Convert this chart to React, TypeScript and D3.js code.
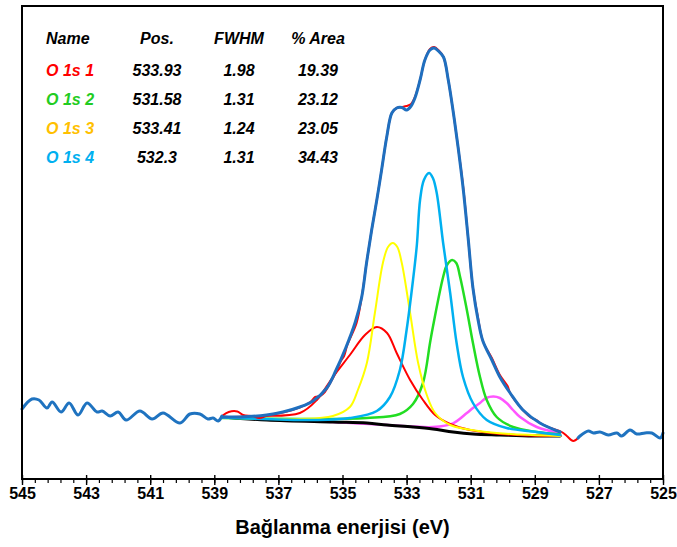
import React, { useEffect, useRef } from 'react';
import * as d3 from 'd3';

// binding energy (eV), intensity (arb.) pairs
const leftNoise: [number, number][] = [
  [545.0, 69], [544.69, 79], [544.47, 78], [544.22, 70], [544.06, 76], [543.78, 66],
  [543.53, 75], [543.25, 63], [542.97, 75], [542.66, 66], [542.5, 67], [542.25, 62],
  [542.0, 66], [541.75, 58], [541.32, 67], [540.94, 59], [540.6, 65], [540.07, 55],
  [539.76, 64], [539.45, 64], [539.2, 59], [539.04, 60], [538.88, 57], [538.76, 62],
];

const rightNoise: [number, number][] = [
  [527.65, 40], [527.59, 42], [527.33, 47], [527.17, 45], [526.97, 46], [526.71, 43],
  [526.44, 45], [526.29, 42], [526.03, 48], [525.82, 44], [525.56, 45], [525.35, 45],
  [525.09, 40], [525.0, 45],
];

const rawData: [number, number][] = [
  [538.76, 62], [538.55, 66], [538.28, 66.5], [538.1, 63], [537.8, 62], [537.6, 60],
  [537.3, 63], [536.8, 66], [536.3, 71], [536.0, 76], [535.85, 81], [535.7, 82],
  [535.55, 86], [535.4, 94], [535.2, 106], [535.05, 117], [534.95, 122], [534.85, 133],
  [534.56, 155], [534.4, 181], [534.25, 215], [534.09, 248], [533.93, 278], [533.78, 308],
  [533.62, 341], [533.46, 365], [533.31, 370], [533.15, 371], [533.0, 372], [532.86, 374],
  [532.74, 381], [532.58, 398], [532.43, 418], [532.27, 429], [532.14, 431], [532.01, 428],
  [531.85, 421], [531.7, 398], [531.54, 365], [531.39, 330], [531.23, 290], [531.08, 240],
  [530.93, 190], [530.77, 160], [530.62, 137], [530.34, 120], [530.09, 103], [529.85, 92],
  [529.77, 85], [529.37, 68], [529.1, 60], [528.95, 58], [528.84, 55], [528.5, 50],
  [528.16, 46], [528.0, 42], [527.8, 37], [527.65, 40],
];

const envelope: [number, number][] = [
  [538.76, 61], [538.2, 61], [537.37, 63], [536.86, 66], [536.33, 71], [535.92, 77],
  [535.49, 90], [535.2, 108], [534.9, 130], [534.6, 156], [534.4, 181], [534.25, 215],
  [534.09, 248], [533.93, 278], [533.78, 308], [533.62, 341], [533.46, 365], [533.31, 370],
  [533.15, 370.5], [533.0, 368], [532.86, 372], [532.74, 380], [532.58, 398], [532.43, 418],
  [532.27, 428], [532.14, 430], [532.01, 427], [531.85, 421], [531.7, 398], [531.54, 365],
  [531.39, 330], [531.23, 288], [531.08, 240], [530.93, 190], [530.77, 158], [530.62, 137],
  [530.34, 118], [530.09, 101], [529.77, 85], [529.37, 68], [528.84, 55], [528.21, 46],
];

const background: [number, number][] = [
  [538.76, 61], [537.36, 58], [535.3, 56], [534.24, 55], [533.61, 53], [532.8, 51],
  [532.18, 49], [531.55, 46], [530.93, 44], [530.09, 43], [529.06, 42], [528.21, 42],
];

const peak1: [number, number][] = [
  [538.76, 61], [537.57, 62], [536.33, 65], [535.8, 78], [535.3, 101], [534.77, 123],
  [534.3, 143], [533.93, 151], [533.61, 145], [533.31, 125], [532.89, 98], [532.49, 78],
  [532.11, 63], [531.64, 54], [531.02, 48], [530.09, 44], [529.15, 42.5], [528.21, 42],
];

const peak2: [number, number][] = [
  [538.76, 60], [534.25, 60], [533.21, 64], [532.8, 74], [532.49, 95], [532.27, 135],
  [532.18, 151], [531.86, 201], [531.74, 213], [531.58, 218], [531.45, 215], [531.33, 201],
  [531.12, 168], [530.93, 135], [530.71, 101], [530.5, 78], [530.19, 61], [529.68, 51],
  [528.94, 46], [528.21, 43.5],
];

const peak3: [number, number][] = [
  [538.76, 60.5], [536.33, 59], [535.3, 62], [534.77, 71], [534.52, 88], [534.24, 115],
  [533.99, 165], [533.74, 215], [533.58, 231], [533.43, 235], [533.29, 231], [533.15, 215],
  [532.89, 165], [532.64, 115], [532.37, 83], [532.11, 65], [531.64, 53], [530.5, 46],
  [529.46, 43.5], [528.21, 42],
];

const peak4: [number, number][] = [
  [538.76, 60.5], [535.8, 58], [534.77, 60], [533.93, 67], [533.52, 81], [533.21, 108],
  [533.0, 148], [532.8, 198], [532.68, 233], [532.58, 278], [532.46, 298], [532.3, 305],
  [532.18, 300], [532.06, 285], [531.86, 235], [531.64, 185], [531.44, 135], [531.24, 101],
  [530.93, 75], [530.5, 58], [529.88, 50], [528.94, 46], [528.21, 43],
];

const peak5: [number, number][] = [
  [538.76, 60.5], [535.3, 56], [533.61, 53], [532.8, 51.5], [532.18, 51], [531.55, 54.7],
  [531.12, 65], [530.93, 70], [530.71, 75], [530.52, 80], [530.29, 81.5], [530.09, 80],
  [529.88, 75], [529.68, 68], [529.46, 61], [528.94, 51], [528.21, 45],
];

// fit table
const tableHeader = ['Name', 'Pos.', 'FWHM', '% Area'];
const peakNames = ['O 1s 1', 'O 1s 2', 'O 1s 3', 'O 1s 4'];
const peakPos = ['533.93', '531.58', '533.41', '532.3'];
const peakFwhm = ['1.98', '1.31', '1.24', '1.31'];
const peakArea = ['19.39', '23.12', '23.05', '34.43'];
const nameColors = ['#ff0000', '#22cc22', '#ffc000', '#00b0f0'];

const majorTicks = d3.range(545, 524, -2);
const minorTicks = d3.range(0, 51).map(i => 545 - i * 0.4);

function App() {
  const svgRef = useRef<SVGSVGElement>(null);

  useEffect(() => {
    if (!svgRef.current) return;
    const svg = d3.select(svgRef.current);
    svg.selectAll('*').remove();

    const left = 22, right = 663, top = 6, bottom = 479;

    const xScale = d3.scaleLinear().domain([545, 525]).range([left, right]);
    const yScale = d3.scaleLinear().domain([0, 470]).range([478, 8]);

    const line = d3.line<[number, number]>()
      .x(d => xScale(d[0]))
      .y(d => yScale(d[1]))
      .curve(d3.curveCatmullRom.alpha(0.5));

    const plot = svg.append('g');

    const draw = (data: [number, number][], color: string, width: number) => {
      plot.append('path')
        .datum(data)
        .attr('fill', 'none')
        .attr('stroke', color)
        .attr('stroke-width', width)
        .attr('stroke-linejoin', 'round')
        .attr('stroke-linecap', 'round')
        .attr('d', line);
    };

    draw(peak5, '#ff55ff', 2.5);
    draw(background, '#000000', 3);
    draw(peak2, '#22dd22', 2.5);
    draw(peak1, '#ff0000', 2);
    draw(peak3, '#ffff00', 2);
    draw(peak4, '#00b0f0', 2.5);
    draw(rawData, '#ff0000', 2);
    draw(envelope, '#1f6fbf', 3);
    draw(leftNoise, '#1f73c0', 3);
    draw(rightNoise, '#1f73c0', 3);

    // frame
    svg.append('rect')
      .attr('x', left).attr('y', top)
      .attr('width', right - left).attr('height', bottom - top)
      .attr('fill', 'none')
      .attr('stroke', '#000')
      .attr('stroke-width', 2);

    // minor ticks
    svg.append('g')
      .attr('transform', `translate(0, ${bottom})`)
      .call(d3.axisBottom(xScale).tickValues(minorTicks).tickSize(4).tickFormat(() => ''))
      .call(g => g.select('.domain').remove())
      .call(g => g.selectAll('line').attr('stroke-width', 1.2));

    // major ticks and labels
    const ax = svg.append('g')
      .attr('transform', `translate(0, ${bottom})`)
      .call(d3.axisBottom(xScale).tickValues(majorTicks).tickSize(6).tickPadding(3).tickFormat(d3.format('d')))
      .call(g => g.select('.domain').remove());
    ax.selectAll('line').attr('y1', -4).attr('stroke-width', 1.4);
    ax.selectAll('text')
      .attr('font-family', '"Liberation Sans Narrow", "Arial Narrow", sans-serif')
      .attr('font-weight', 'bold')
      .attr('font-size', 16)
      .attr('fill', '#000');

    svg.append('text')
      .attr('x', (left + right) / 2)
      .attr('y', 534)
      .attr('text-anchor', 'middle')
      .attr('font-family', '"Liberation Sans", Arial, sans-serif')
      .attr('font-weight', 'bold')
      .attr('font-size', 20)
      .text('Bağlanma enerjisi (eV)');

    // legend table
    const colX = [46, 157, 239, 318];
    const rowY = [38, 70, 99, 128, 157];
    const table = svg.append('g')
      .attr('font-family', '"Liberation Sans", Arial, sans-serif')
      .attr('font-weight', 'bold')
      .attr('font-style', 'italic')
      .attr('font-size', 16);

    tableHeader.forEach((h, i) => {
      table.append('text')
        .attr('x', colX[i])
        .attr('y', rowY[0] + 6)
        .attr('text-anchor', i === 0 ? 'start' : 'middle')
        .attr('fill', '#000')
        .text(h);
    });

    peakNames.forEach((name, r) => {
      const y = rowY[r + 1] + 6;
      table.append('text').attr('x', colX[0]).attr('y', y).attr('fill', nameColors[r]).text(name);
      table.append('text').attr('x', colX[1]).attr('y', y).attr('text-anchor', 'middle').text(peakPos[r]);
      table.append('text').attr('x', colX[2]).attr('y', y).attr('text-anchor', 'middle').text(peakFwhm[r]);
      table.append('text').attr('x', colX[3]).attr('y', y).attr('text-anchor', 'middle').text(peakArea[r]);
    });
  }, []);

  return (
    <svg
      ref={svgRef}
      width={677}
      height={547}
      style={{ position: 'absolute', left: 0, top: 0, background: '#fff' }}
    />
  );
}

export default App;
